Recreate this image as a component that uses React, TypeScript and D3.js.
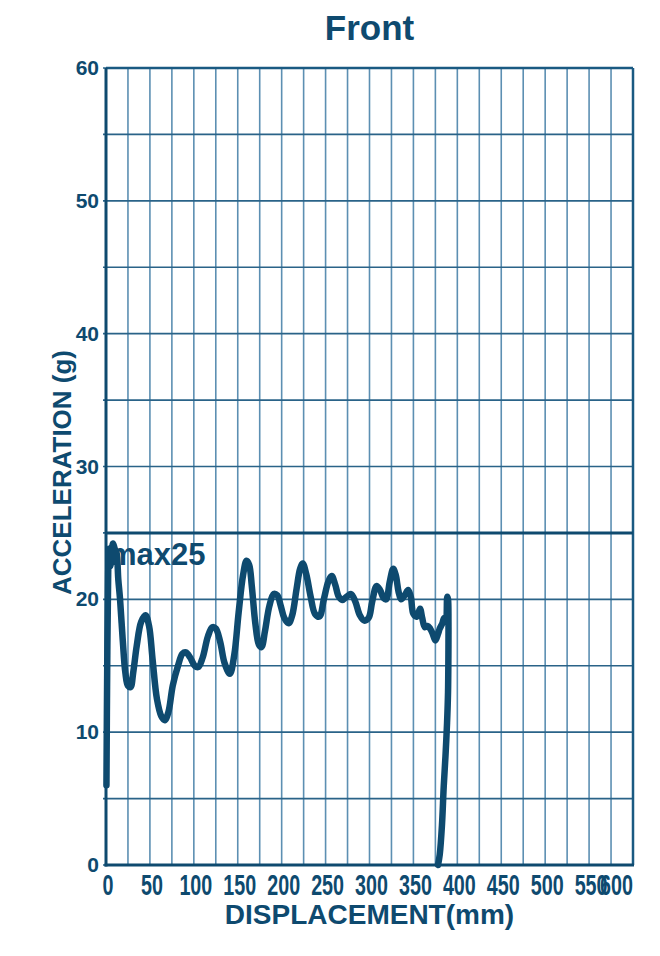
import React from 'react';
import * as d3 from 'd3';

// displacement (mm) / acceleration (g)
const displacement = [
  0.5, 1.5, 2.5, 3.5, 5, 6.5, 8, 10, 12, 14, 16, 19, 22, 25, 28, 31, 35, 40, 45, 49,
  53, 58, 63, 67, 71, 76, 82, 87, 91, 96, 101, 105, 110, 116, 121, 125, 130, 135, 141, 146,
  151, 156, 160, 163, 166, 170, 174, 177, 181, 186, 191, 195, 199, 203, 208, 212, 217, 221, 224, 228,
  233, 238, 243, 248, 253, 257, 261, 265, 269, 274, 279, 284, 289, 294, 299, 303, 308, 312, 316, 319,
  323, 327, 330, 333, 336, 340, 344, 347, 350, 354, 357.5, 360, 363, 366, 369, 372, 375, 378, 380, 383,
  385, 387, 388.5, 389.4, 389.9, 389.8, 389.4, 388.3, 386.5, 384.5, 382.5, 380, 378,
];
const acceleration = [
  6, 16, 22, 23.8, 22.5, 23.5, 24.2, 23.8, 23.5, 21.5, 20, 17, 14.5, 13.5, 13.4, 14.5, 16.5, 18.3, 18.8, 18,
  15.5, 12.5, 11.2, 10.9, 11.5, 13.5, 15, 15.9, 16, 15.6, 15, 14.9, 15.6, 17.2, 17.9, 17.8, 16.8, 15.2, 14.4, 15.8,
  19, 21.8, 22.9, 22.6, 21, 18.2, 16.6, 16.4, 17.6, 19.5, 20.4, 20.3, 19.5, 18.6, 18.2, 18.8, 20.8, 22.3, 22.7, 21.9,
  20.2, 18.9, 18.7, 20, 21.3, 21.75, 21.1, 20.2, 19.95, 20.2, 20.4, 19.8, 18.8, 18.4, 18.6, 19.8, 21, 20.7, 20.1, 20,
  21.3, 22.3, 21.8, 20.6, 20, 20.3, 20.7, 20.2, 18.9, 18.7, 19.3, 18.6, 17.9, 18, 17.8, 17.4, 16.9, 17.4, 17.8, 18.2,
  18.6, 18.4, 20.2, 20, 18.4, 15.5, 13, 10.7, 8.2, 5.9, 3, 0.8, 0,
];

const xTicks = [0, 50, 100, 150, 200, 250, 300, 350, 400, 450, 500, 550, 600];
const yTicks = [0, 10, 20, 30, 40, 50, 60];
const xGrid = d3.range(0, 601, 25);
const yGrid = d3.range(0, 61, 5);
const limit = 25;

const W = 660;
const H = 956;
const margin = { top: 68, right: 27, bottom: 91, left: 106 };

const ink = '#0e4a6f';
const font = '"Liberation Sans", Arial, sans-serif';

export default function App() {
  const x = d3.scaleLinear().domain([0, 600]).range([margin.left, W - margin.right]);
  const y = d3.scaleLinear().domain([0, 60]).range([H - margin.bottom, margin.top]);

  const pts = displacement.map((d, i) => [d, acceleration[i]] as [number, number]);
  const line = d3
    .line<[number, number]>()
    .x((d) => x(d[0]))
    .y((d) => y(d[1]))
    .curve(d3.curveCatmullRom.alpha(0.5));

  const x0 = x(0);
  const x1 = x(600);
  const y0 = y(0);
  const y1 = y(60);

  return (
    <svg
      width={W}
      height={H}
      style={{ position: 'absolute', left: 0, top: 0, background: '#fff' }}
      fontFamily={font}
    >
      <text x={(x0 + x1) / 2} y={40} textAnchor="middle" fontSize={35} fontWeight="bold" fill={ink}>
        Front
      </text>

      {/* grid */}
      {xGrid.map((v) => (
        <line key={'vx' + v} x1={x(v)} x2={x(v)} y1={y1} y2={y0} stroke="#5c8fb2" strokeWidth={1.6} />
      ))}
      {yGrid.map((v) => (
        <line key={'hy' + v} x1={x0 - 3} x2={x1} y1={y(v)} y2={y(v)} stroke="#2a6388" strokeWidth={1.6} />
      ))}

      {/* frame */}
      <line x1={x0} x2={x1} y1={y1} y2={y1} stroke="#1a5a82" strokeWidth={2.5} />
      <line x1={x1} x2={x1} y1={y1} y2={y0} stroke="#1a5a82" strokeWidth={2.5} />
      <line x1={x0} x2={x0} y1={y1} y2={y0 + 1.5} stroke={ink} strokeWidth={3} />
      <line x1={x0 - 1.5} x2={x1 + 1} y1={y0} y2={y0} stroke={ink} strokeWidth={3} />

      {/* limit line */}
      <line x1={x0} x2={x1} y1={y(limit)} y2={y(limit)} stroke={ink} strokeWidth={3} />

      {/* y tick labels */}
      {yTicks.map((v) => (
        <text key={'yt' + v} x={x0 - 7} y={y(v) + 7} textAnchor="end" fontSize={21} fontWeight="bold" fill={ink}>
          {v}
        </text>
      ))}

      {/* x tick labels (condensed) */}
      {xTicks.map((v) => {
        const last = v === 600;
        return (
          <text
            key={'xt' + v}
            transform={`translate(${last ? x(v) : x(v) + 2},${y0 + 30}) scale(0.68,1)`}
            textAnchor={last ? 'end' : 'middle'}
            fontSize={29}
            fontWeight="bold"
            fill={ink}
          >
            {v}
          </text>
        );
      })}

      <text x={(x0 + x1) / 2} y={924} textAnchor="middle" fontSize={28} fontWeight="bold" fill={ink}>
        DISPLACEMENT(mm)
      </text>
      <text
        transform={`translate(71,${(y0 + y1) / 2 + 6}) rotate(-90)`}
        textAnchor="middle"
        fontSize={26}
        fontWeight="bold"
        fill={ink}
      >
        ACCELERATION (g)
      </text>

      <path d={line(pts) ?? ''} fill="none" stroke={ink} strokeWidth={6.5} strokeLinejoin="round" strokeLinecap="round" />

      <text x={x0 + 3} y={y(limit) + 32} fontSize={31} fontWeight="bold" fill={ink}>
        max{limit}
      </text>
    </svg>
  );
}
